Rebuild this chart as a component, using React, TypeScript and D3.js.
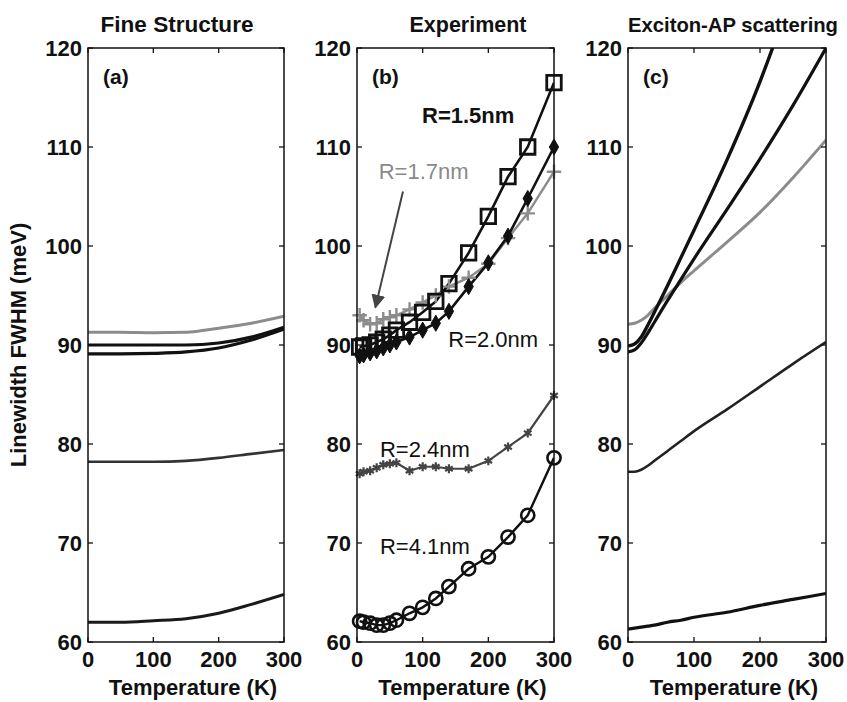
import React from "react";
import * as d3 from "d3";

// ---------- shared axes ----------
const yTicks = [60, 70, 80, 90, 100, 110, 120];
const xTicks = [0, 100, 200, 300];
const panelTitles = ["Fine Structure", "Experiment", "Exciton-AP scattering"];
const panelTags = ["(a)", "(b)", "(c)"];
const yLabel = "Linewidth FWHM (meV)";
const xLabel = "Temperature (K)";

// ---------- panel (a): fine structure ----------
const fsTemps = [0, 50, 100, 150, 200, 250, 300];
const fsR17 = [91.3, 91.3, 91.25, 91.3, 91.7, 92.2, 92.9];
const fsR15 = [90.0, 90.0, 90.0, 90.0, 90.2, 90.8, 91.8];
const fsR20 = [89.1, 89.1, 89.15, 89.3, 89.7, 90.5, 91.6];
const fsR24 = [78.2, 78.2, 78.2, 78.3, 78.6, 79.0, 79.4];
const fsR41 = [62.0, 62.0, 62.15, 62.35, 62.9, 63.8, 64.8];

// ---------- panel (b): experiment ----------
const expTemps = [4, 10, 20, 30, 40, 50, 60, 80, 100, 120, 140, 170, 200, 230, 260, 300];
const expR15 = [89.8, 89.9, 90.0, 90.3, 90.6, 91.0, 91.5, 92.3, 93.3, 94.4, 96.2, 99.3, 103.0, 107.0, 110.0, 116.5];
const expR20 = [88.9, 89.0, 89.2, 89.4, 89.7, 90.0, 90.3, 90.8, 91.5, 92.2, 93.4, 95.9, 98.3, 101.0, 104.8, 110.0];
const expR17 = [93.0, 92.5, 92.1, 92.2, 92.6, 92.8, 93.0, 93.6, 94.3, 95.0, 95.9, 96.8, 98.2, 100.8, 103.3, 107.5];
const expR24 = [77.0, 77.2, 77.3, 77.6, 77.9, 78.0, 78.1, 77.3, 77.7, 77.7, 77.5, 77.5, 78.3, 79.7, 81.1, 84.9];
const expR41 = [62.1, 62.0, 61.9, 61.7, 61.7, 61.9, 62.2, 62.9, 63.5, 64.4, 65.6, 67.4, 68.6, 70.6, 72.8, 78.6];

// ---------- panel (c): exciton-AP scattering ----------
const apTemps = [0, 10, 20, 30, 40, 60, 80, 100, 150, 200, 250, 300];
const apR15Temps = [0, 10, 20, 30, 40, 60, 80, 100, 150, 200, 230];
const apR15 = [89.9, 90.1, 90.8, 92.0, 93.3, 96.0, 98.8, 101.6, 108.7, 116.6, 122.0];
const apR20 = [89.3, 89.5, 90.2, 91.2, 92.3, 94.5, 96.6, 98.7, 103.7, 108.8, 114.2, 120.0];
const apR17 = [92.1, 92.2, 92.5, 93.0, 93.7, 95.0, 96.3, 97.5, 100.4, 103.4, 106.9, 110.7];
const apR24 = [77.2, 77.2, 77.4, 77.8, 78.3, 79.3, 80.3, 81.3, 83.5, 85.8, 88.1, 90.3];
const apR41 = [61.3, 61.4, 61.5, 61.6, 61.7, 62.0, 62.2, 62.5, 63.0, 63.7, 64.3, 64.9];

// ---------- annotations (panel b, data units) ----------
const seriesLabels = [
  { text: "R=1.5nm", t: 99, v: 112.4, bold: true, color: "#111" },
  { text: "R=1.7nm", t: 33, v: 106.8, bold: false, color: "#8a8a8a" },
  { text: "R=2.0nm", t: 139, v: 89.8, bold: false, color: "#111" },
  { text: "R=2.4nm", t: 35, v: 78.7, bold: false, color: "#111" },
  { text: "R=4.1nm", t: 35, v: 68.9, bold: false, color: "#111" },
];
const arrowFrom = { t: 70, v: 105.5 };
const arrowTo = { t: 28, v: 93.8 };

const FONT = "'Liberation Sans', Arial, Helvetica, sans-serif";
const W = 847;
const H = 702;
const TOP = 48;
const BOTTOM = 642;
const panels = [
  { left: 88, width: 196, titleX: 177, titleW: 153 },
  { left: 357, width: 197, titleX: 468, titleW: 117 },
  { left: 628, width: 198, titleX: 733, titleW: 210 },
];

const yScale = d3.scaleLinear().domain([60, 120]).range([BOTTOM, TOP]);

function Frame({ idx }: { idx: number }) {
  const p = panels[idx];
  const x = d3.scaleLinear().domain([0, 300]).range([p.left, p.left + p.width]);
  const tl = 5;
  return (
    <g>
      <rect x={p.left} y={TOP} width={p.width} height={BOTTOM - TOP} fill="none" stroke="#111" strokeWidth={1.5} />
      {yTicks.map((t) => (
        <g key={"y" + t}>
          <line x1={p.left} x2={p.left + tl} y1={yScale(t)} y2={yScale(t)} stroke="#111" strokeWidth={1.3} />
          <line x1={p.left + p.width} x2={p.left + p.width - tl} y1={yScale(t)} y2={yScale(t)} stroke="#111" strokeWidth={1.3} />
          <text x={p.left - 6} y={yScale(t)} dy="0.36em" textAnchor="end" fontSize={22} fontWeight="bold" fontFamily={FONT} fill="#111">
            {t}
          </text>
        </g>
      ))}
      {xTicks.map((t) => (
        <g key={"x" + t}>
          <line x1={x(t)} x2={x(t)} y1={BOTTOM} y2={BOTTOM - tl} stroke="#111" strokeWidth={1.3} />
          <line x1={x(t)} x2={x(t)} y1={TOP} y2={TOP + tl} stroke="#111" strokeWidth={1.3} />
          <text x={x(t)} y={667} textAnchor="middle" fontSize={22} fontWeight="bold" fontFamily={FONT} fill="#111">
            {t}
          </text>
        </g>
      ))}
      <text x={p.left + p.width / 2 + 7} y={695} textAnchor="middle" fontSize={22} fontWeight="bold" fontFamily={FONT} fill="#111">
        {xLabel}
      </text>
      <text
        x={p.titleX}
        y={32}
        textAnchor="middle"
        fontSize={idx === 2 ? 21 : 22}
        fontWeight="bold"
        fontFamily={FONT}
        fill="#111"
        textLength={p.titleW}
        lengthAdjust="spacingAndGlyphs"
      >
        {panelTitles[idx]}
      </text>
      <text x={p.left + 15} y={84} fontSize={21} fontWeight="bold" fontFamily={FONT} fill="#111">
        {panelTags[idx]}
      </text>
    </g>
  );
}

function curvePath(idx: number, temps: number[], vals: number[], curve: any) {
  const p = panels[idx];
  const x = d3.scaleLinear().domain([0, 300]).range([p.left, p.left + p.width]);
  const gen = d3
    .line<number>()
    .x((_, i) => x(temps[i]))
    .y((d) => yScale(d))
    .curve(curve);
  return gen(vals) || "";
}

export default function App() {
  const pb = panels[1];
  const xb = d3.scaleLinear().domain([0, 300]).range([pb.left, pb.left + pb.width]);

  const sq = d3.symbol().type(d3.symbolSquare).size(210)() || "";
  const dia = d3.symbol().type(d3.symbolDiamond).size(75)() || "";
  const plus = d3.symbol().type(d3.symbolPlus).size(70)() || "";
  const star = d3.symbol().type(d3.symbolAsterisk).size(55)() || "";

  const smooth = d3.curveMonotoneX;
  const lin = d3.curveLinear;

  const fsLines = [
    { v: fsR17, c: "#8c8c8c", w: 3 },
    { v: fsR15, c: "#111", w: 3.2 },
    { v: fsR20, c: "#111", w: 3.2 },
    { v: fsR24, c: "#333", w: 2.6 },
    { v: fsR41, c: "#1a1a1a", w: 3 },
  ];

  const apLines = [
    { t: apTemps, v: apR17, c: "#8c8c8c", w: 3 },
    { t: apTemps, v: apR24, c: "#222", w: 2.6 },
    { t: apTemps, v: apR41, c: "#111", w: 3.2 },
    { t: apTemps, v: apR20, c: "#111", w: 3.2 },
    { t: apR15Temps, v: apR15, c: "#111", w: 3.4 },
  ];

  return (
    <svg width={W} height={H} style={{ position: "absolute", left: 0, top: 0, background: "#fff" }}>
      <defs>
        {panels.map((p, i) => (
          <clipPath id={"clip" + i} key={i}>
            <rect x={p.left} y={TOP} width={p.width} height={BOTTOM - TOP} />
          </clipPath>
        ))}
        <marker id="arrowhead" viewBox="0 0 10 10" refX="9" refY="5" markerWidth="7" markerHeight="7" orient="auto">
          <path d="M0,0 L10,5 L0,10 z" fill="#444" />
        </marker>
      </defs>
      <rect x={0} y={0} width={W} height={H} fill="#fff" />

      {/* y label */}
      <text transform={`translate(26,${(TOP + BOTTOM) / 2}) rotate(-90)`} textAnchor="middle" fontSize={22} fontWeight="bold" fontFamily={FONT} fill="#111">
        {yLabel}
      </text>

      {/* panel a */}
      <g clipPath="url(#clip0)">
        {fsLines.map((l, i) => (
          <path key={i} d={curvePath(0, fsTemps, l.v, smooth)} fill="none" stroke={l.c} strokeWidth={l.w} />
        ))}
      </g>

      {/* panel b */}
      <g clipPath="url(#clip1)">
        <path d={curvePath(1, expTemps, expR41, lin)} fill="none" stroke="#111" strokeWidth={2.4} />
        <path d={curvePath(1, expTemps, expR24, lin)} fill="none" stroke="#444" strokeWidth={2.2} />
        <path d={curvePath(1, expTemps, expR17, lin)} fill="none" stroke="#8c8c8c" strokeWidth={2.4} />
        <path d={curvePath(1, expTemps, expR20, lin)} fill="none" stroke="#111" strokeWidth={2.6} />
        <path d={curvePath(1, expTemps, expR15, lin)} fill="none" stroke="#111" strokeWidth={2.6} />
      </g>
      {expTemps.map((t, i) => (
        <g key={"m" + i}>
          <circle cx={xb(t)} cy={yScale(expR41[i])} r={6.6} fill="none" stroke="#111" strokeWidth={2.6} />
          <path d={star} transform={`translate(${xb(t)},${yScale(expR24[i])})`} fill="none" stroke="#444" strokeWidth={2.2} />
          <path d={plus} transform={`translate(${xb(t)},${yScale(expR17[i])})`} fill="none" stroke="#8c8c8c" strokeWidth={2.4} />
          <path d={dia} transform={`translate(${xb(t)},${yScale(expR20[i])})`} fill="#111" stroke="#111" strokeWidth={1} />
          <path d={sq} transform={`translate(${xb(t)},${yScale(expR15[i])})`} fill="none" stroke="#111" strokeWidth={2.8} />
        </g>
      ))}
      {seriesLabels.map((s, i) => (
        <text key={"s" + i} x={xb(s.t)} y={yScale(s.v)} fontSize={22} fontWeight={s.bold ? "bold" : "normal"} fontFamily={FONT} fill={s.color}>
          {s.text}
        </text>
      ))}
      <line
        x1={xb(arrowFrom.t)}
        y1={yScale(arrowFrom.v)}
        x2={xb(arrowTo.t)}
        y2={yScale(arrowTo.v)}
        stroke="#444"
        strokeWidth={2}
        markerEnd="url(#arrowhead)"
      />

      {/* panel c */}
      <g clipPath="url(#clip2)">
        {apLines.map((l, i) => (
          <path key={i} d={curvePath(2, l.t, l.v, smooth)} fill="none" stroke={l.c} strokeWidth={l.w} />
        ))}
      </g>

      {panels.map((_, i) => (
        <Frame key={i} idx={i} />
      ))}
    </svg>
  );
}
